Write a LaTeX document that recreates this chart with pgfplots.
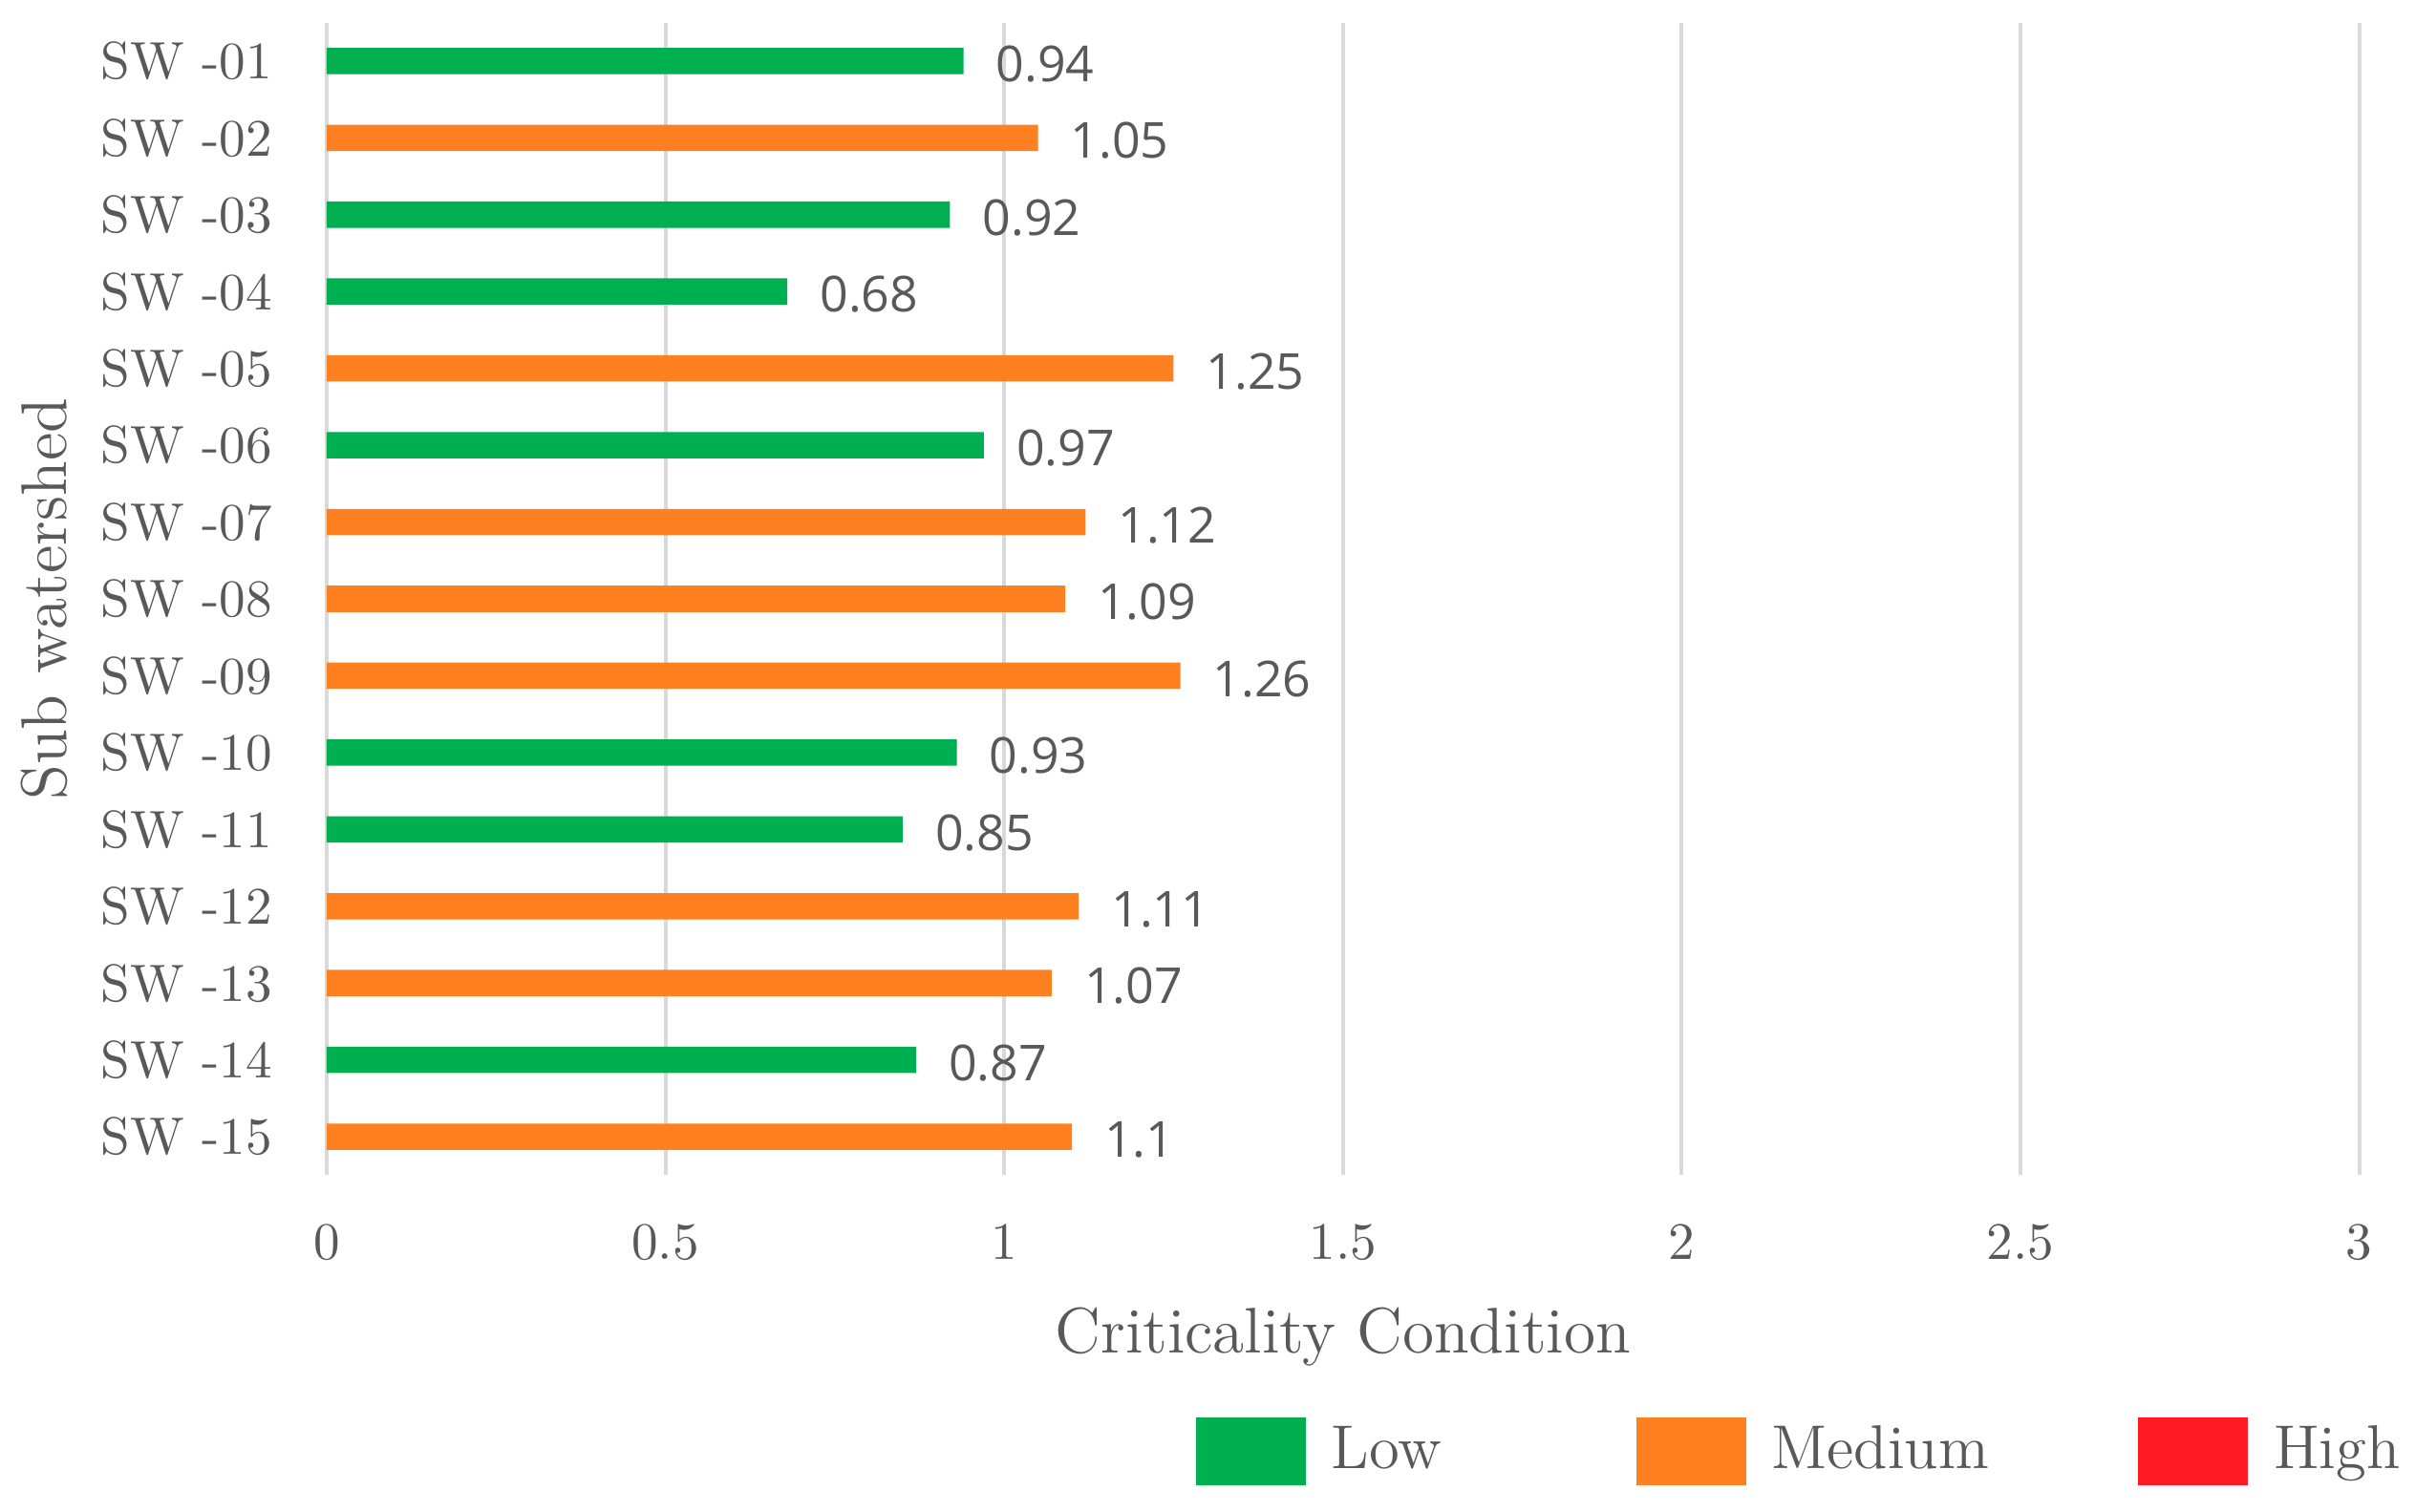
\documentclass[border=0pt]{standalone}
\usepackage{fontspec}
\newfontfamily\valfont{Open Sans}
\usepackage{pgfplots}
\usepackage{pgfplotstable}
\pgfplotsset{compat=1.18}
\definecolor{lowg}{RGB}{0,176,80}
\definecolor{medo}{RGB}{255,128,32}
\definecolor{highr}{RGB}{255,26,36}
\definecolor{txt}{RGB}{89,89,89}
\definecolor{grd}{RGB}{217,217,217}

\pgfplotstableread{
y x lab
1 0.94 0.94
3 0.92 0.92
4 0.68 0.68
6 0.97 0.97
10 0.93 0.93
11 0.85 0.85
14 0.87 0.87
}\lowdata
\pgfplotstableread{
y x lab
2 1.05 1.05
5 1.25 1.25
7 1.12 1.12
8 1.09 1.09
9 1.26 1.26
12 1.11 1.11
13 1.07 1.07
15 1.1 1.1
}\meddata

\begin{document}
\begin{tikzpicture}
\useasboundingbox (0,0) rectangle (468pt,292.87pt);
\begin{axis}[
  at={(63.3pt,65.1pt)}, anchor=south west,
  width=393.9pt, height=223.4pt, scale only axis,
  xbar, bar width=5.1pt, bar shift=0pt,
  xmin=0, xmax=3, xtick={0,0.5,1,1.5,2,2.5,3},
  ymin=0.5, ymax=15.5, y dir=reverse, ytick={1,...,15},
  yticklabels={SW -01,SW -02,SW -03,SW -04,SW -05,SW -06,SW -07,SW -08,SW -09,SW -10,SW -11,SW -12,SW -13,SW -14,SW -15},
  xmajorgrids, grid style={grd, line width=0.75pt},
  axis line style={draw=none}, major tick length=0pt,
  /pgf/number format/assume math mode=true,
  tick label style={text=txt, font=\fontsize{10.2}{12}\selectfont},
  yticklabel style={xshift=-7pt},
  xticklabel style={yshift=-6pt},
  xlabel={Criticality Condition},
  ylabel={Sub watershed},
  label style={text=txt, font=\fontsize{12.5}{14}\selectfont},
  xlabel style={at={(axis description cs:0.5,-0.1404)}, anchor=center},
  ylabel style={at={(axis description cs:-0.139,0.5)}, anchor=center},
  nodes near coords, point meta=explicit symbolic,
  nodes near coords style={anchor=west, xshift=2.8pt, yshift=-0.6pt, text=txt, font=\valfont\fontsize{9.6}{11}\selectfont},
  legend image code/.code={\path[#1, draw=none] (0pt,-6.6pt) rectangle (21.3pt,6.6pt);},
  legend style={at={(axis description cs:0.4195,-0.2394)}, anchor=west, draw=none, fill=none,
    legend columns=3, text=txt, font=\fontsize{12}{14}\selectfont,
    /tikz/every even column/.append style={column sep=10pt}},
]
\addplot[fill=lowg, draw=none] table[x=x, y=y, meta=lab] {\lowdata};
\addlegendentry{\hspace{3pt}\makebox[47pt][l]{Low}}
\addplot[fill=medo, draw=none] table[x=x, y=y, meta=lab] {\meddata};
\addlegendentry{\hspace{3pt}\makebox[59pt][l]{Medium}}
\addlegendimage{fill=highr}
\addlegendentry{\hspace{3pt}High}
\end{axis}
\end{tikzpicture}
\end{document}
